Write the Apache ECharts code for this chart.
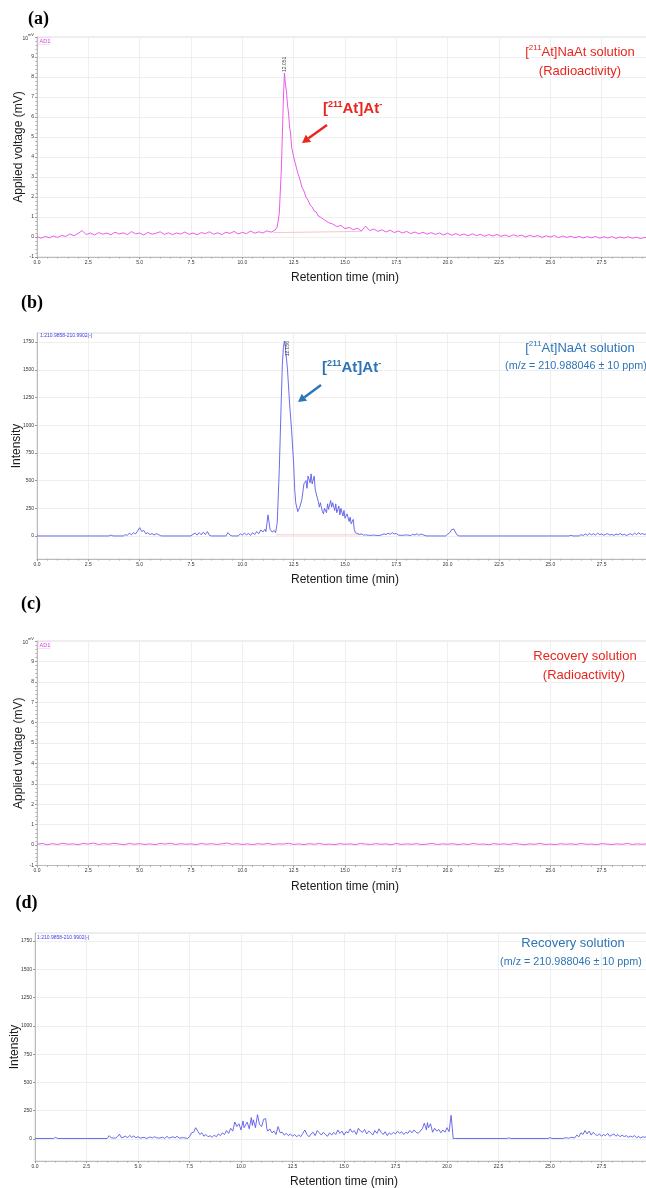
<!DOCTYPE html>
<html><head><meta charset="utf-8">
<script src="https://cdn.jsdelivr.net/npm/echarts@6/dist/echarts.min.js"></script>
<style>html,body{margin:0;padding:0;background:#fff;overflow:hidden;}#c{width:646px;height:1188px;}</style>
</head><body><div id="c"></div>
<script>
// ---------------- DATA ----------------
const xTicks = [0, 2.5, 5, 7.5, 10, 12.5, 15, 17.5, 20, 22.5, 25, 27.5, 30];
const intensityTicks = [0, 250, 500, 750, 1000, 1250, 1500, 1750];
const intensityMinorTicks = [-200,-150,-100,-50,0,50,100,150,200,250,300,350,400,450,500,550,600,650,700,750,800,850,900,950,1000,1050,1100,1150,1200,1250,1300,1350,1400,1450,1500,1550,1600,1650,1700,1750,1800];

// (a) [211At]NaAt solution, radioactivity (mV)
const radioNaAt = [[0,0.02],[0.2,-0.06],[0.4,0.03],[0.6,-0.04],[0.8,0.05],[1.0,-0.02],[1.2,0.08],[1.4,0.03],[1.6,0.15],[1.8,0.06],[2.0,0.18],[2.2,0.32],[2.4,0.12],[2.6,0.2],[2.8,0.1],[3.0,0.22],[3.2,0.14],[3.4,0.2],[3.6,0.11],[3.8,0.24],[4.0,0.15],[4.2,0.21],[4.4,0.12],[4.6,0.27],[4.8,0.16],[5.0,0.2],[5.2,0.1],[5.4,0.23],[5.6,0.14],[5.8,0.19],[6.0,0.26],[6.2,0.13],[6.4,0.21],[6.6,0.12],[6.8,0.2],[7.0,0.15],[7.2,0.25],[7.4,0.13],[7.6,0.2],[7.8,0.11],[8.0,0.22],[8.2,0.17],[8.4,0.26],[8.6,0.14],[8.8,0.21],[9.0,0.12],[9.2,0.24],[9.4,0.18],[9.6,0.28],[9.8,0.15],[10.0,0.23],[10.2,0.17],[10.4,0.3],[10.6,0.19],[10.8,0.26],[11.0,0.2],[11.2,0.31],[11.4,0.24],[11.6,0.35],[11.7,0.5],[11.8,1.2],[11.9,3.4],[12.0,6.9],[12.05,8.2],[12.1,7.6],[12.15,7.3],[12.2,6.6],[12.25,6.2],[12.3,5.5],[12.35,5.2],[12.4,4.5],[12.45,4.4],[12.5,4.0],[12.6,3.6],[12.7,3.2],[12.8,2.9],[12.9,2.5],[13.0,2.3],[13.1,2.0],[13.2,1.85],[13.3,1.6],[13.4,1.5],[13.5,1.3],[13.6,1.25],[13.7,1.05],[13.8,1.0],[14.0,0.85],[14.2,0.72],[14.4,0.65],[14.6,0.52],[14.8,0.58],[15.0,0.42],[15.2,0.48],[15.4,0.36],[15.6,0.44],[15.8,0.3],[16.0,0.55],[16.2,0.32],[16.4,0.4],[16.6,0.28],[16.8,0.36],[17.0,0.25],[17.2,0.34],[17.4,0.22],[17.6,0.3],[17.8,0.2],[18.0,0.28],[18.2,0.17],[18.4,0.25],[18.6,0.16],[18.8,0.24],[19.0,0.14],[19.2,0.22],[19.4,0.13],[19.6,0.2],[19.8,0.1],[20.0,0.19],[20.2,0.09],[20.4,0.17],[20.6,0.08],[20.8,0.15],[21.0,0.06],[21.2,0.16],[21.4,0.07],[21.6,0.13],[21.8,0.04],[22.0,0.12],[22.2,0.05],[22.4,0.13],[22.6,0.03],[22.8,0.1],[23.0,0.02],[23.2,0.11],[23.4,0.04],[23.6,0.09],[23.8,0.0],[24.0,0.08],[24.2,0.02],[24.4,0.07],[24.6,-0.02],[24.8,0.06],[25.0,0.0],[25.2,0.07],[25.4,-0.03],[25.6,0.05],[25.8,-0.02],[26.0,0.04],[26.2,-0.04],[26.4,0.03],[26.6,-0.05],[26.8,0.02],[27.0,-0.04],[27.2,0.03],[27.4,-0.06],[27.6,0.01],[27.8,-0.05],[28.0,0.02],[28.2,-0.07],[28.4,0.0],[28.6,-0.05],[28.8,0.01],[29.0,-0.06],[29.2,-0.01],[29.4,-0.08],[29.6,-0.02],[29.8,-0.06],[30.0,-0.03]];
const radioNaAtBaseline = [[11.5,0.22],[15.8,0.28]];
const radioNaAtPeak = [[12.05,8.2]];

// (b) [211At]NaAt solution, MS intensity
const msNaAt = [[0,0],[3.5,0],[3.6,8],[3.7,0],[4.2,0],[4.3,12],[4.4,5],[4.5,25],[4.6,10],[4.7,30],[4.8,18],[4.9,45],[5.0,75],[5.05,60],[5.1,40],[5.2,50],[5.3,20],[5.4,30],[5.5,12],[5.6,22],[5.7,8],[5.8,20],[5.9,15],[6.0,3],[6.1,0],[7.5,0],[7.6,15],[7.7,25],[7.8,8],[7.9,30],[8.0,10],[8.1,35],[8.2,12],[8.3,40],[8.4,5],[8.5,0],[9.2,0],[9.3,30],[9.4,8],[9.5,0],[9.8,0],[9.9,20],[10.0,8],[10.1,25],[10.2,10],[10.3,22],[10.4,5],[10.5,30],[10.6,12],[10.7,40],[10.8,20],[10.9,55],[11.0,35],[11.1,60],[11.15,40],[11.25,190],[11.35,60],[11.45,35],[11.55,50],[11.62,30],[11.7,120],[11.8,600],[11.9,1250],[11.95,1550],[12.0,1700],[12.05,1760],[12.1,1700],[12.2,1500],[12.3,1200],[12.4,950],[12.5,650],[12.55,420],[12.6,300],[12.7,220],[12.8,260],[12.9,330],[13.0,470],[13.1,500],[13.15,430],[13.2,540],[13.3,480],[13.35,560],[13.4,470],[13.5,540],[13.55,420],[13.6,380],[13.7,310],[13.75,260],[13.8,300],[13.9,220],[13.95,200],[14.0,250],[14.1,210],[14.15,290],[14.2,240],[14.3,320],[14.35,260],[14.4,300],[14.5,230],[14.55,290],[14.6,210],[14.7,270],[14.75,190],[14.8,250],[14.9,180],[14.95,230],[15.0,160],[15.1,200],[15.2,130],[15.25,170],[15.3,110],[15.4,150],[15.45,60],[15.5,30],[15.6,22],[15.7,15],[15.8,18],[15.9,8],[16.0,10],[16.2,5],[16.4,8],[16.6,3],[16.8,10],[16.9,20],[17.0,12],[17.1,25],[17.2,15],[17.3,30],[17.4,18],[17.5,22],[17.6,8],[17.8,5],[18.0,10],[18.2,3],[18.3,15],[18.4,8],[18.5,20],[18.6,6],[18.7,18],[18.8,10],[18.9,3],[19.0,0],[19.9,0],[20.0,15],[20.1,30],[20.2,58],[20.3,62],[20.35,45],[20.45,10],[20.55,0],[25.9,0],[26.0,6],[26.1,0],[26.4,0],[26.5,12],[26.6,4],[26.7,18],[26.8,6],[26.9,22],[27.0,10],[27.1,20],[27.2,8],[27.3,25],[27.4,12],[27.5,18],[27.6,6],[27.7,15],[27.8,20],[27.9,8],[28.0,14],[28.1,5],[28.2,18],[28.3,10],[28.4,22],[28.5,8],[28.6,15],[28.7,4],[28.8,12],[28.9,20],[29.0,9],[29.1,25],[29.2,12],[29.3,28],[29.4,15],[29.5,22],[29.6,10],[29.7,30],[29.8,18],[29.9,25],[30.0,15]];
const msNaAtBaseline = [[11.65,10],[15.8,10]];
const msNaAtPeak = [[12.05,1760]];

// (c) Recovery solution, radioactivity (mV)
const radioRecovery = [[0,0.04],[0.25,0.08],[0.5,0.02],[0.75,0.07],[1,0.03],[1.25,0.09],[1.5,0.04],[1.75,0.06],[2,0.02],[2.25,0.08],[2.5,0.05],[2.75,0.1],[3,0.03],[3.25,0.07],[3.5,0.04],[3.75,0.09],[4,0.05],[4.25,0.02],[4.5,0.08],[4.75,0.04],[5,0.07],[5.25,0.03],[5.5,0.06],[5.75,0.02],[6,0.08],[6.25,0.05],[6.5,0.09],[6.75,0.03],[7,0.07],[7.25,0.04],[7.5,0.06],[7.75,0.02],[8,0.08],[8.25,0.04],[8.5,0.07],[8.75,0.03],[9,0.06],[9.25,0.1],[9.5,0.04],[9.75,0.07],[10,0.03],[10.25,0.06],[10.5,0.02],[10.75,0.07],[11,0.04],[11.25,0.08],[11.5,0.03],[11.75,0.06],[12,0.05],[12.25,0.09],[12.5,0.03],[12.75,0.06],[13,0.02],[13.25,0.07],[13.5,0.04],[13.75,0.08],[14,0.03],[14.25,0.05],[14.5,0.02],[14.75,0.07],[15,0.04],[15.25,0.06],[15.5,0.02],[15.75,0.08],[16,0.05],[16.25,0.03],[16.5,0.07],[16.75,0.04],[17,0.06],[17.25,0.02],[17.5,0.08],[17.75,0.03],[18,0.06],[18.25,0.04],[18.5,0.07],[18.75,0.02],[19,0.05],[19.25,0.08],[19.5,0.03],[19.75,0.06],[20,0.04],[20.25,0.07],[20.5,0.02],[20.75,0.06],[21,0.03],[21.25,0.08],[21.5,0.04],[21.75,0.05],[22,0.02],[22.25,0.07],[22.5,0.04],[22.75,0.06],[23,0.03],[23.25,0.08],[23.5,0.05],[23.75,0.02],[24,0.06],[24.25,0.04],[24.5,0.08],[24.75,0.03],[25,0.05],[25.25,0.02],[25.5,0.07],[25.75,0.04],[26,0.06],[26.25,0.03],[26.5,0.08],[26.75,0.04],[27,0.05],[27.25,0.02],[27.5,0.07],[27.75,0.05],[28,0.03],[28.25,0.06],[28.5,0.04],[28.75,0.08],[29,0.03],[29.25,0.06],[29.5,0.04],[29.75,0.07],[30,0.05]];

// (d) Recovery solution, MS intensity
const msRecovery = [[0,5],[0.9,5],[1.0,15],[1.1,5],[3.5,5],[3.6,30],[3.7,10],[3.9,8],[4.0,20],[4.1,42],[4.2,10],[4.4,25],[4.5,12],[4.6,32],[4.7,15],[4.8,28],[4.9,10],[5.0,22],[5.1,8],[5.3,15],[5.4,5],[5.6,18],[5.7,10],[5.8,20],[5.9,12],[6.0,8],[6.2,15],[6.3,5],[6.4,25],[6.5,8],[6.7,20],[6.8,10],[6.9,25],[7.0,8],[7.2,12],[7.4,5],[7.5,20],[7.6,55],[7.7,60],[7.8,100],[7.9,70],[8.0,40],[8.1,55],[8.2,25],[8.3,40],[8.4,20],[8.5,30],[8.6,15],[8.7,35],[8.8,20],[8.9,45],[9.0,30],[9.1,55],[9.2,40],[9.3,75],[9.4,50],[9.5,95],[9.6,70],[9.7,150],[9.8,110],[9.9,135],[10.0,80],[10.1,160],[10.15,100],[10.3,150],[10.4,90],[10.5,190],[10.55,120],[10.6,170],[10.7,100],[10.8,215],[10.9,130],[11.0,110],[11.1,175],[11.2,180],[11.25,95],[11.3,70],[11.4,90],[11.5,55],[11.6,70],[11.7,40],[11.8,110],[11.9,55],[12.0,60],[12.1,35],[12.2,50],[12.3,30],[12.4,45],[12.5,25],[12.6,40],[12.7,20],[12.8,35],[12.9,22],[13.0,50],[13.1,80],[13.2,40],[13.3,20],[13.4,45],[13.5,60],[13.6,30],[13.7,75],[13.8,55],[13.9,35],[14.0,60],[14.1,40],[14.2,25],[14.3,55],[14.4,35],[14.5,60],[14.6,40],[14.7,80],[14.8,50],[14.9,70],[15.0,35],[15.1,65],[15.2,55],[15.3,90],[15.4,60],[15.5,75],[15.6,40],[15.7,95],[15.8,70],[15.9,60],[16.0,85],[16.1,45],[16.2,70],[16.3,55],[16.4,35],[16.5,75],[16.6,50],[16.7,90],[16.8,60],[16.9,40],[17.0,65],[17.1,30],[17.2,55],[17.3,40],[17.4,60],[17.5,45],[17.6,70],[17.7,50],[17.8,65],[17.9,40],[18.0,60],[18.1,50],[18.2,75],[18.3,55],[18.4,80],[18.5,60],[18.6,50],[18.7,70],[18.8,90],[18.9,140],[19.0,80],[19.05,145],[19.1,100],[19.2,135],[19.3,60],[19.4,95],[19.5,70],[19.6,85],[19.7,55],[19.8,80],[19.9,60],[20.0,100],[20.1,65],[20.2,210],[20.3,5],[20.4,5],[22.9,5],[23.0,10],[23.1,5],[24.9,5],[25.0,12],[25.1,5],[25.6,5],[25.8,12],[25.9,6],[26.0,15],[26.2,10],[26.3,35],[26.4,20],[26.5,55],[26.6,40],[26.7,75],[26.8,45],[26.9,70],[27.0,35],[27.1,60],[27.2,40],[27.3,30],[27.4,45],[27.5,25],[27.6,40],[27.7,30],[27.8,50],[27.9,25],[28.0,35],[28.1,45],[28.2,25],[28.3,40],[28.4,20],[28.5,35],[28.6,22],[28.7,30],[28.8,15],[28.9,25],[29.0,18],[29.1,30],[29.2,12],[29.3,22],[29.4,10],[29.5,20],[29.6,15],[29.7,25],[29.8,12],[29.9,20],[30.0,15]];

// ---------------- STYLE / LAYOUT ----------------
const MAGENTA = '#e64be6', BLUE = '#5b5bea', RED_TXT = '#e8261e', BLUE_TXT = '#2e75b6';
const FONT = 'Liberation Sans, Arial, sans-serif';
const panels = [
  {left:37, width:616, top:37,  height:220, ymin:-1,   ymax:10,   kind:'mv'},
  {left:37, width:616, top:333, height:226, ymin:-208, ymax:1832, kind:'ms'},
  {left:37, width:616, top:641, height:224.5, ymin:-1, ymax:10,   kind:'mv'},
  {left:35, width:618, top:933, height:228, ymin:-194, ymax:1820, kind:'ms'}
];

const grid = panels.map(p => ({left:p.left, width:p.width, top:p.top, height:p.height, show:true,
  borderColor:'#dcdcdc', borderWidth:1, backgroundColor:'transparent', containLabel:false, outerBoundsMode:'none'}));

const xAxis = panels.map((p,i) => ({
  type:'value', gridIndex:i, min:0, max:30, interval:2.5,
  name:'Retention time (min)', nameLocation:'middle', nameGap:15, nameMoveOverlap:false,
  nameTextStyle:{fontFamily:FONT, fontSize:12, color:'#1a1a1a'},
  axisLine:{show:true, onZero:false, lineStyle:{color:'#bbb', width:1}},
  axisTick:{show:true, length:2, lineStyle:{color:'#999'}},
  minorTick:{show:true, splitNumber:5, length:1.5, lineStyle:{color:'#aaa'}},
  axisLabel:{fontFamily:FONT, fontSize:5, color:'#333', margin:3, formatter:v => v.toFixed(1), hideOverlap:false},
  splitLine:{show:true, lineStyle:{color:'#efefef', width:1}}
}));

const yAxis = [];
panels.forEach((p,i) => {
  const base = {
    type:'value', gridIndex:i, min:p.ymin, max:p.ymax,
    nameLocation:'middle', nameGap:p.kind === 'mv' ? 12 : 14, nameMoveOverlap:false,
    nameTextStyle:{fontFamily:FONT, fontSize:12, color:'#1a1a1a'},
    axisLine:{show:true, lineStyle:{color:'#bbb', width:1}},
    splitLine:{show:true, lineStyle:{color:'#efefef', width:1}}
  };
  if (p.kind === 'mv') {
    Object.assign(base, {
      name:'Applied voltage (mV)', interval:1,
      axisTick:{show:true, length:2, lineStyle:{color:'#999'}},
      minorTick:{show:true, splitNumber:5, length:1.5, lineStyle:{color:'#aaa'}},
      axisLabel:{fontFamily:FONT, fontSize:5, color:'#333', margin:3,
        formatter:v => v === 10 ? '{n|10}{u|mV}' : String(v),
        rich:{n:{fontFamily:FONT, fontSize:5, color:'#333', lineHeight:8, verticalAlign:'bottom'},
              u:{fontFamily:FONT, fontSize:4, color:'#333', lineHeight:8, verticalAlign:'top'}}}
    });
  } else {
    Object.assign(base, {
      name:'Intensity',
      axisTick:{show:true, length:2, lineStyle:{color:'#999'}, customValues:intensityTicks},
      axisLabel:{fontFamily:FONT, fontSize:5, color:'#333', margin:3, customValues:intensityTicks,
        formatter:v => String(Math.round(v))}
    });
  }
  yAxis.push(base);
});
// minor tick overlays for intensity panels
[1,3].forEach(i => {
  yAxis.push({type:'value', gridIndex:i, min:panels[i].ymin, max:panels[i].ymax,
    axisLine:{show:false}, splitLine:{show:false}, axisLabel:{show:false},
    axisTick:{show:true, length:1.2, lineStyle:{color:'#aaa'}, customValues:intensityMinorTicks}});
});

function lineSeries(data, i, color, w) {
  return {type:'line', xAxisIndex:i, yAxisIndex:i, data:data, showSymbol:false, symbol:'none',
    sampling:null, animation:false, lineStyle:{color:color, width:w}, z:3, silent:true};
}
function peakLabel(data, i, text, mode) {
  const lab = mode === 'up'
    ? {show:true, formatter:text, position:'top', distance:1, rotate:90, align:'left', verticalAlign:'middle'}
    : {show:true, formatter:text, position:'right', distance:1, rotate:90, align:'right', verticalAlign:'top'};
  Object.assign(lab, {fontFamily:FONT, fontSize:5, color:'#111'});
  return {type:'scatter', xAxisIndex:i, yAxisIndex:i, data:data, symbolSize:0, label:lab, z:5, silent:true, animation:false};
}

const series = [
  lineSeries(radioNaAtBaseline, 0, '#f3a0a0', 0.6),
  lineSeries(radioNaAt, 0, MAGENTA, 0.9),
  peakLabel(radioNaAtPeak, 0, '12.051', 'up'),
  lineSeries(msNaAtBaseline, 1, '#f3a0a0', 0.6),
  lineSeries(msNaAt, 1, BLUE, 0.9),
  peakLabel(msNaAtPeak, 1, '12.056', 'down'),
  lineSeries(radioRecovery, 2, MAGENTA, 0.9),
  lineSeries(msRecovery, 3, BLUE, 0.9)
];

// ---------------- GRAPHICS (annotations) ----------------
function txt(x, y, text, opt) {
  return Object.assign({type:'text', silent:true, z:20, style:Object.assign({x:x, y:y, text:text,
    fontFamily:FONT, fontSize:13, fill:'#000', align:'center', verticalAlign:'middle'}, opt || {})});
}
function supText(x, y, parts, color, size, weight, align) {
  const s = parts.map(p => (p[1] ? '{s|' : '{n|') + p[0] + '}').join('');
  return {type:'text', silent:true, z:20, style:{x:x, y:y, text:s, align:align || 'center', verticalAlign:'middle',
    rich:{n:{fontFamily:FONT, fontSize:size, fontWeight:weight, fill:color, lineHeight:size + 3},
          s:{fontFamily:FONT, fontSize:Math.round(size * 0.62), fontWeight:weight, fill:color, lineHeight:size + 3, verticalAlign:'top'}}}};
}
function arrow(x1, y1, x2, y2, color) {
  const dx = x2 - x1, dy = y2 - y1, L = Math.hypot(dx, dy), ux = dx / L, uy = dy / L;
  const hl = 8, hw = 4.5, bx = x2 - hl * ux, by = y2 - hl * uy, nx = -uy, ny = ux;
  return [
    {type:'line', silent:true, z:20, shape:{x1:x1, y1:y1, x2:bx, y2:by}, style:{stroke:color, lineWidth:2.4}},
    {type:'polygon', silent:true, z:20, shape:{points:[[x2, y2], [bx + hw * nx, by + hw * ny], [bx - hw * nx, by - hw * ny]]}, style:{fill:color}}
  ];
}
function badge(x, y, text, color, border) {
  return [
    {type:'rect', silent:true, z:19, shape:{x:x, y:y, width:12, height:7}, style:{fill:'#fff', stroke:border, lineWidth:0.6}},
    txt(x + 1.5, y + 3.7, text, {fontSize:5.5, fill:color, align:'left'})
  ];
}
const serif = 'Liberation Serif, Times New Roman, serif';
const graphic = [
  txt(38.5, 19, '(a)', {fontFamily:serif, fontWeight:'bold', fontSize:18}),
  txt(32, 303, '(b)', {fontFamily:serif, fontWeight:'bold', fontSize:18}),
  txt(31, 604, '(c)', {fontFamily:serif, fontWeight:'bold', fontSize:18}),
  txt(26.5, 903, '(d)', {fontFamily:serif, fontWeight:'bold', fontSize:18}),
  ...badge(38, 37.5, 'AD1', '#e03ee0', '#f0c8f0'),
  ...badge(38, 641.5, 'AD1', '#e03ee0', '#f0c8f0'),
  txt(40, 335.5, '1:210.9858-210.9902(-)', {fontSize:5, fill:'#3b3be6', align:'left'}),
  txt(37, 937.5, '1:210.9858-210.9902(-)', {fontSize:5, fill:'#3b3be6', align:'left'}),
  supText(580, 52, [['[',0],['211',1],['At]NaAt solution',0]], RED_TXT, 13, 'normal'),
  txt(580, 71, '(Radioactivity)', {fill:RED_TXT}),
  supText(580, 348, [['[',0],['211',1],['At]NaAt solution',0]], BLUE_TXT, 13, 'normal'),
  txt(576, 366, '(m/z = 210.988046 ± 10 ppm)', {fill:BLUE_TXT, fontSize:10.8}),
  txt(585, 656, 'Recovery solution', {fill:RED_TXT}),
  txt(584, 675, '(Radioactivity)', {fill:RED_TXT}),
  txt(573, 943, 'Recovery solution', {fill:BLUE_TXT}),
  txt(571, 962, '(m/z = 210.988046 ± 10 ppm)', {fill:BLUE_TXT, fontSize:10.8}),
  supText(323, 109, [['[',0],['211',1],['At]At',0],['-',1]], RED_TXT, 15, 'bold', 'left'),
  ...arrow(327, 125, 302, 143, RED_TXT),
  supText(322, 368, [['[',0],['211',1],['At]At',0],['-',1]], BLUE_TXT, 15, 'bold', 'left'),
  ...arrow(321, 385, 298, 402, BLUE_TXT)
];

const chart = echarts.init(document.getElementById('c'), null, {renderer:'canvas'});
chart.setOption({animation:false, backgroundColor:'#fff', grid, xAxis, yAxis, series, graphic});
</script></body></html>
